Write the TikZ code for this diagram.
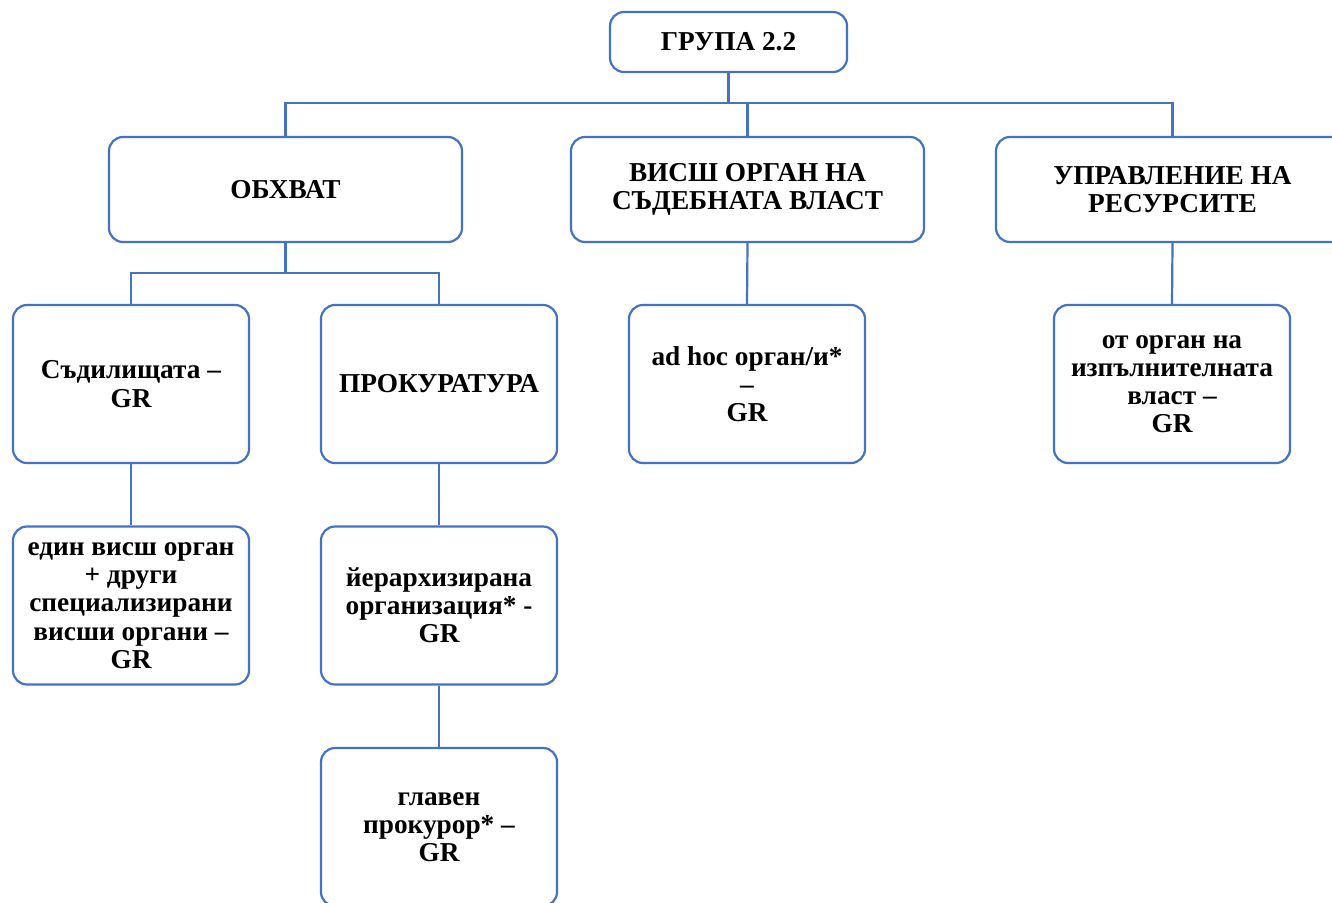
\documentclass[tikz,border=0pt]{standalone}
\usepackage{fontspec}
\setmainfont{Liberation Serif}
\begin{document}
\begin{tikzpicture}[x=1pt,y=-1pt,
  box/.style={draw=boxblue,line width=2.2pt,rounded corners=14pt,fill=white,
    align=center,font=\fontsize{27.3}{28.2}\selectfont\bfseries,inner sep=0pt},
  wide/.style={box,minimum width=353pt,minimum height=105pt},
  small/.style={box,minimum width=236pt,minimum height=158pt},
  link/.style={draw=boxblue,line width=2.2pt}]
\definecolor{boxblue}{RGB}{68,114,196}
\clip (0,0) rectangle (1332,902);
\fill[white] (0,0) rectangle (1332,902);
\node[box,minimum width=237pt,minimum height=60pt] (g) at (728.5,42) {ГРУПА 2.2};
\node[wide] (o) at (285.5,189.5) {ОБХВАТ};
\node[wide] (v) at (747.5,189.5) {ВИСШ ОРГАН НА\\СЪДЕБНАТА ВЛАСТ};
\node[wide] (u) at (1172.5,189.5) {УПРАВЛЕНИЕ НА\\РЕСУРСИТЕ};
\node[small] (s) at (131,384) {Съдилищата –\\GR};
\node[small] (p) at (439,384) {ПРОКУРАТУРА};
\node[small] (a) at (747,384) {ad hoc орган/и*\\–\\GR};
\node[small] (e) at (1172,384) {от орган на\\изпълнителната\\власт –\\GR};
\node[small] (d) at (131,605.5) {един висш орган\\+ други\\специализирани\\висши органи –\\GR};
\node[small] (h) at (439,605.5) {йерархизирана\\организация* -\\GR};
\node[small] (m) at (439,827) {главен\\прокурор* –\\GR};
\coordinate (bus) at (728,103);
\coordinate (bus2) at (286,273);
\draw[link] (g.south) -- (g.south|-bus);
\draw[link] (o.north) -- (o.north|-bus) -- (u.north|-bus) -- (u.north);
\draw[link] (v.north) -- (v.north|-bus);
\draw[link] (o.south) -- (o.south|-bus2);
\draw[link] (s.north) -- (s.north|-bus2) -- (p.north|-bus2) -- (p.north);
\draw[link] (v.south) -- (a.north);
\draw[link] (u.south) -- (e.north);
\draw[link] (s.south) -- (d.north);
\draw[link] (p.south) -- (h.north);
\draw[link] (h.south) -- (m.north);
\end{tikzpicture}
\end{document}
